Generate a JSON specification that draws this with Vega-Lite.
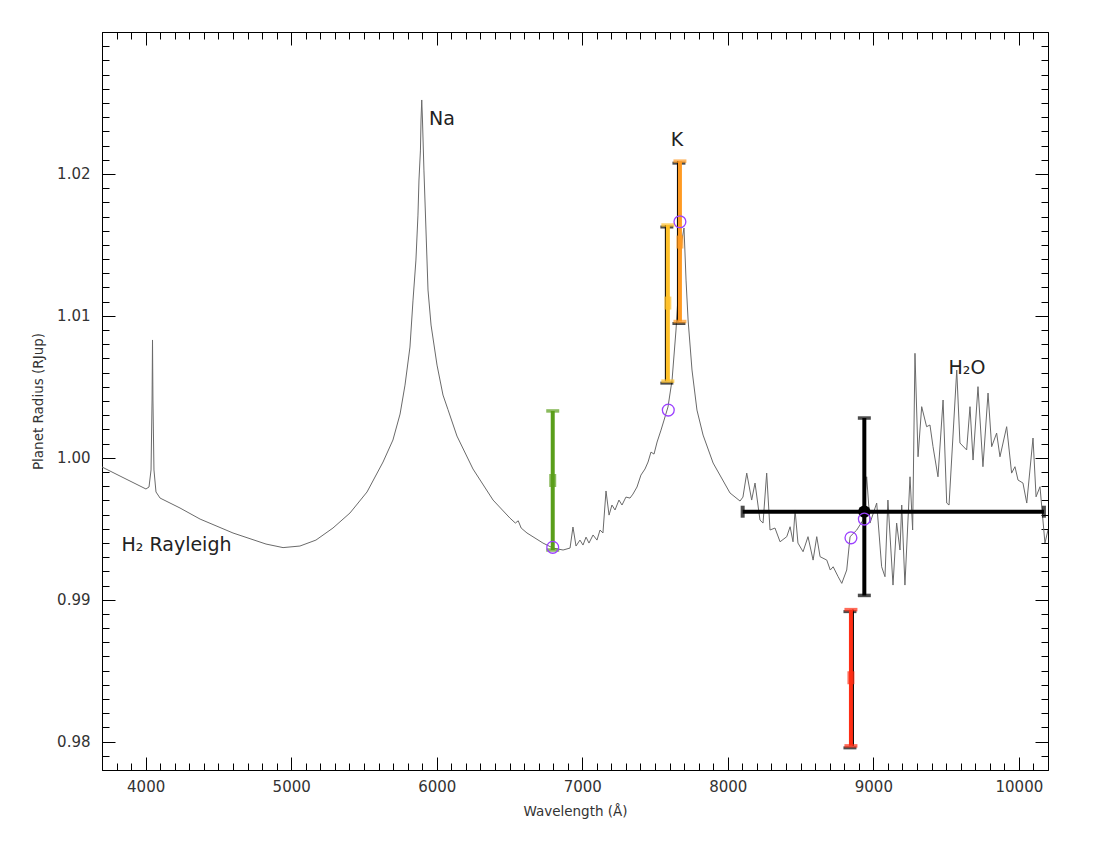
{
  "$schema": "https://vega.github.io/schema/vega-lite/v6.json",
  "width": 946,
  "height": 738,
  "autosize": {"type": "none"},
  "padding": {"left": 102, "top": 32, "right": 52, "bottom": 75},
  "background": "white",
  "config": {
    "view": {"stroke": null},
    "axis": {"grid": false, "domainColor": "black", "domainWidth": 1, "tickColor": "black", "tickWidth": 1, "labelFont": "DejaVu Sans", "titleFont": "DejaVu Sans", "labelColor": "#333333", "titleColor": "#333333", "labelFontWeight": "normal", "titleFontWeight": "normal"}
  },
  "resolve": {"axis": {"x": "independent", "y": "independent"}},
  "datasets": {
    "spectrum": [
      {"w":3700,"r":0.99935},{"w":3824,"r":0.99871},{"w":3961,"r":0.99801},{"w":4002,"r":0.99780},{"w":4023,"r":0.99794},{"w":4037,"r":0.99914},{"w":4044,"r":1.00407},{"w":4047,"r":1.00830},{"w":4050,"r":1.00407},{"w":4057,"r":0.99914},{"w":4071,"r":0.99759},{"w":4099,"r":0.99716},{"w":4236,"r":0.99646},{"w":4374,"r":0.99568},{"w":4600,"r":0.99470},{"w":4827,"r":0.99392},{"w":4944,"r":0.99367},{"w":5060,"r":0.99378},{"w":5170,"r":0.99420},{"w":5287,"r":0.99505},{"w":5404,"r":0.99611},{"w":5521,"r":0.99759},{"w":5631,"r":0.99970},{"w":5699,"r":1.00125},{"w":5748,"r":1.00308},{"w":5782,"r":1.00512},{"w":5816,"r":1.00780},{"w":5837,"r":1.01111},{"w":5857,"r":1.01393},{"w":5871,"r":1.01710},{"w":5878,"r":1.01957},{"w":5888,"r":1.02168},{"w":5892,"r":1.02380},{"w":5897,"r":1.02521},{"w":5902,"r":1.02380},{"w":5912,"r":1.02027},{"w":5926,"r":1.01605},{"w":5940,"r":1.01182},{"w":5961,"r":1.00935},{"w":6002,"r":1.00653},{"w":6043,"r":1.00442},{"w":6077,"r":1.00340},{"w":6139,"r":1.00153},{"w":6249,"r":0.99921},{"w":6387,"r":0.99702},{"w":6503,"r":0.99575},{"w":6540,"r":0.99540},{"w":6560,"r":0.99556},{"w":6580,"r":0.99505},{"w":6620,"r":0.99470},{"w":6730,"r":0.99399},{"w":6799,"r":0.99364},{"w":6868,"r":0.99350},{"w":6916,"r":0.99364},{"w":6936,"r":0.99512},{"w":6957,"r":0.99378},{"w":6984,"r":0.99420},{"w":7005,"r":0.99385},{"w":7026,"r":0.99441},{"w":7046,"r":0.99399},{"w":7074,"r":0.99456},{"w":7101,"r":0.99420},{"w":7122,"r":0.99491},{"w":7142,"r":0.99470},{"w":7163,"r":0.99766},{"w":7184,"r":0.99596},{"w":7204,"r":0.99667},{"w":7225,"r":0.99632},{"w":7252,"r":0.99702},{"w":7273,"r":0.99667},{"w":7300,"r":0.99723},{"w":7328,"r":0.99716},{"w":7348,"r":0.99744},{"w":7376,"r":0.99794},{"w":7403,"r":0.99878},{"w":7431,"r":0.99921},{"w":7452,"r":0.99970},{"w":7472,"r":1.00040},{"w":7493,"r":1.00026},{"w":7514,"r":1.00111},{"w":7541,"r":1.00195},{"w":7562,"r":1.00266},{"w":7589,"r":1.00358},{"w":7617,"r":1.00548},{"w":7644,"r":1.00900},{"w":7665,"r":1.01252},{"w":7685,"r":1.01534},{"w":7699,"r":1.01619},{"w":7713,"r":1.01252},{"w":7727,"r":1.00971},{"w":7754,"r":1.00618},{"w":7788,"r":1.00336},{"w":7830,"r":1.00160},{"w":7899,"r":0.99963},{"w":8015,"r":0.99752},{"w":8084,"r":0.99695},{"w":8104,"r":0.99723},{"w":8130,"r":0.99892},{"w":8164,"r":0.99702},{"w":8187,"r":0.99822},{"w":8221,"r":0.99561},{"w":8242,"r":0.99540},{"w":8267,"r":0.99892},{"w":8290,"r":0.99491},{"w":8324,"r":0.99505},{"w":8359,"r":0.99408},{"w":8405,"r":0.99444},{"w":8428,"r":0.99514},{"w":8448,"r":0.99408},{"w":8462,"r":0.99632},{"w":8482,"r":0.99399},{"w":8517,"r":0.99338},{"w":8551,"r":0.99444},{"w":8586,"r":0.99279},{"w":8611,"r":0.99444},{"w":8634,"r":0.99303},{"w":8680,"r":0.99279},{"w":8704,"r":0.99209},{"w":8724,"r":0.99232},{"w":8758,"r":0.99162},{"w":8783,"r":0.99115},{"w":8817,"r":0.99209},{"w":8840,"r":0.99444},{"w":8886,"r":0.99491},{"w":8929,"r":0.99561},{"w":8954,"r":0.99866},{"w":8977,"r":0.99540},{"w":9023,"r":0.99681},{"w":9057,"r":0.99232},{"w":9080,"r":0.99162},{"w":9100,"r":0.99702},{"w":9135,"r":0.99103},{"w":9160,"r":0.99540},{"w":9183,"r":0.99350},{"w":9195,"r":0.99667},{"w":9217,"r":0.99103},{"w":9252,"r":0.99866},{"w":9270,"r":0.99491},{"w":9286,"r":1.00736},{"w":9307,"r":1.00007},{"w":9332,"r":1.00360},{"w":9366,"r":1.00219},{"w":9389,"r":1.00231},{"w":9410,"r":1.00078},{"w":9444,"r":0.99866},{"w":9479,"r":1.00407},{"w":9504,"r":0.99681},{"w":9520,"r":0.99667},{"w":9573,"r":1.00618},{"w":9595,"r":1.00104},{"w":9641,"r":1.00055},{"w":9664,"r":1.00360},{"w":9685,"r":0.99984},{"w":9719,"r":1.00501},{"w":9753,"r":0.99937},{"w":9788,"r":1.00456},{"w":9813,"r":1.00078},{"w":9847,"r":1.00174},{"w":9870,"r":1.00007},{"w":9916,"r":1.00219},{"w":9950,"r":0.99892},{"w":9973,"r":0.99937},{"w":9994,"r":0.99843},{"w":10028,"r":0.99822},{"w":10054,"r":0.99681},{"w":10097,"r":1.00139},{"w":10118,"r":0.99725},{"w":10145,"r":0.99796},{"w":10179,"r":0.99399},{"w":10200,"r":0.99491}
    ],
    "obs": [
      {"band":"green","wl":6797,"r":0.9984,"lo":0.9935,"hi":1.0033},
      {"band":"gold","wl":7588,"r":1.0109,"lo":1.0054,"hi":1.0164},
      {"band":"orange","wl":7671,"r":1.0152,"lo":1.0096,"hi":1.0209},
      {"band":"red","wl":8846,"r":0.9845,"lo":0.9797,"hi":0.9893},
      {"band":"black","wl":8938,"r":0.9962,"lo":0.9903,"hi":1.0028,"wlo":8102,"whi":10172}
    ],
    "model": [
      {"wl":6797,"r":0.99369},
      {"wl":7591,"r":1.00336},
      {"wl":7671,"r":1.01663},
      {"wl":8846,"r":0.99436},
      {"wl":8938,"r":0.99568}
    ],
    "labels": [
      {"text":"Na","wl":6036,"r":1.02387},
      {"text":"K","wl":7651,"r":1.02239},
      {"text":"H₂O","wl":9643,"r":1.00632},
      {"text":"H₂ Rayleigh","wl":4212,"r":0.99385}
    ]
  },
  "layer": [
    {
      "data": {"name": "spectrum"},
      "mark": {"type": "line", "color": "#6a6a6a", "strokeWidth": 1, "clip": true},
      "encoding": {
        "x": {"field": "w", "type": "quantitative", "scale": {"domain": [3700, 10200], "nice": false, "zero": false},
          "axis": {"orient": "bottom", "values": [4000,5000,6000,7000,8000,9000,10000], "format": "d", "tickSize": -13, "labelPadding": 22, "labelFontSize": 15, "title": "Wavelength (Å)", "titleFontSize": 13.5, "titlePadding": 10}},
        "y": {"field": "r", "type": "quantitative", "scale": {"domain": [0.978, 1.03], "nice": false, "zero": false},
          "axis": {"orient": "left", "values": [0.98,0.99,1.0,1.01,1.02], "format": ".2f", "tickSize": -13, "labelPadding": 25, "labelFontSize": 15, "title": "Planet Radius (RJup)", "titleFontSize": 13.5, "titlePadding": 11}}
      }
    },
    {
      "data": {"name": "obs"},
      "transform": [{"filter": "datum.band === 'black'"}],
      "mark": {"type": "rule", "color": "black", "strokeWidth": 4},
      "encoding": {
        "x": {"field": "wlo", "type": "quantitative", "scale": {"domain": [3700, 10200], "nice": false, "zero": false},
          "axis": {"orient": "top", "values": [4000,5000,6000,7000,8000,9000,10000], "tickSize": -13, "labels": false, "title": null}},
        "x2": {"field": "whi"},
        "y": {"field": "r", "type": "quantitative", "scale": {"domain": [0.978, 1.03], "nice": false, "zero": false},
          "axis": {"orient": "right", "values": [0.98,0.99,1.0,1.01,1.02], "tickSize": -13, "labels": false, "title": null}}
      }
    },
    {
      "data": {"name": "obs"},
      "transform": [{"filter": "datum.band === 'black'"}, {"fold": ["wlo", "whi"], "as": ["end", "xv"]}],
      "mark": {"type": "tick", "orient": "vertical", "color": "black", "size": 12, "thickness": 4},
      "encoding": {
        "x": {"field": "xv", "type": "quantitative", "scale": {"domain": [3700, 10200], "nice": false, "zero": false},
          "axis": {"orient": "bottom", "values": [3700,3800,3900,4000,4100,4200,4300,4400,4500,4600,4700,4800,4900,5000,5100,5200,5300,5400,5500,5600,5700,5800,5900,6000,6100,6200,6300,6400,6500,6600,6700,6800,6900,7000,7100,7200,7300,7400,7500,7600,7700,7800,7900,8000,8100,8200,8300,8400,8500,8600,8700,8800,8900,9000,9100,9200,9300,9400,9500,9600,9700,9800,9900,10000,10100], "tickSize": -7, "labels": false, "title": null}},
        "y": {"field": "r", "type": "quantitative", "scale": {"domain": [0.978, 1.03], "nice": false, "zero": false},
          "axis": {"orient": "left", "values": [0.979,0.98,0.981,0.982,0.983,0.984,0.985,0.986,0.987,0.988,0.989,0.99,0.991,0.992,0.993,0.994,0.995,0.996,0.997,0.998,0.999,1.0,1.001,1.002,1.003,1.004,1.005,1.006,1.007,1.008,1.009,1.01,1.011,1.012,1.013,1.014,1.015,1.016,1.017,1.018,1.019,1.02,1.021,1.022,1.023,1.024,1.025,1.026,1.027,1.028,1.029], "tickSize": -7, "labels": false, "title": null}}
      }
    },
    {
      "data": {"name": "obs"},
      "transform": [{"filter": "datum.band === 'gold' || datum.band === 'orange'"}],
      "mark": {"type": "rule", "color": "black", "strokeWidth": 2, "xOffset": -2},
      "encoding": {
        "x": {"field": "wl", "type": "quantitative", "scale": {"domain": [3700, 10200], "nice": false, "zero": false},
          "axis": {"orient": "top", "values": [3700,3800,3900,4000,4100,4200,4300,4400,4500,4600,4700,4800,4900,5000,5100,5200,5300,5400,5500,5600,5700,5800,5900,6000,6100,6200,6300,6400,6500,6600,6700,6800,6900,7000,7100,7200,7300,7400,7500,7600,7700,7800,7900,8000,8100,8200,8300,8400,8500,8600,8700,8800,8900,9000,9100,9200,9300,9400,9500,9600,9700,9800,9900,10000,10100], "tickSize": -7, "labels": false, "title": null}},
        "y": {"field": "lo", "type": "quantitative", "scale": {"domain": [0.978, 1.03], "nice": false, "zero": false},
          "axis": {"orient": "right", "values": [0.979,0.98,0.981,0.982,0.983,0.984,0.985,0.986,0.987,0.988,0.989,0.99,0.991,0.992,0.993,0.994,0.995,0.996,0.997,0.998,0.999,1.0,1.001,1.002,1.003,1.004,1.005,1.006,1.007,1.008,1.009,1.01,1.011,1.012,1.013,1.014,1.015,1.016,1.017,1.018,1.019,1.02,1.021,1.022,1.023,1.024,1.025,1.026,1.027,1.028,1.029], "tickSize": -7, "labels": false, "title": null}},
        "y2": {"field": "hi"}
      }
    },
    {
      "data": {"name": "obs"},
      "transform": [{"filter": "datum.band === 'red'"}],
      "mark": {"type": "rule", "color": "black", "strokeWidth": 2, "xOffset": 2},
      "encoding": {
        "x": {"field": "wl", "type": "quantitative", "scale": {"domain": [3700, 10200], "nice": false, "zero": false}, "axis": null},
        "y": {"field": "lo", "type": "quantitative", "scale": {"domain": [0.978, 1.03], "nice": false, "zero": false}, "axis": null},
        "y2": {"field": "hi"}
      }
    },
    {
      "data": {"name": "obs"},
      "transform": [{"filter": "datum.band === 'gold' || datum.band === 'orange' || datum.band === 'red'"}, {"fold": ["lo", "hi"], "as": ["end", "yv"]}],
      "mark": {"type": "tick", "orient": "horizontal", "color": "black", "size": 13, "thickness": 3, "xOffset": -1, "yOffset": 2},
      "encoding": {
        "x": {"field": "wl", "type": "quantitative", "scale": {"domain": [3700, 10200], "nice": false, "zero": false}, "axis": null},
        "y": {"field": "yv", "type": "quantitative", "scale": {"domain": [0.978, 1.03], "nice": false, "zero": false}, "axis": null}
      }
    },
    {
      "data": {"name": "obs"},
      "mark": {"type": "rule", "strokeWidth": 4},
      "encoding": {
        "x": {"field": "wl", "type": "quantitative", "scale": {"domain": [3700, 10200], "nice": false, "zero": false}, "axis": null},
        "y": {"field": "lo", "type": "quantitative", "scale": {"domain": [0.978, 1.03], "nice": false, "zero": false}, "axis": null},
        "y2": {"field": "hi"},
        "color": {"field": "band", "type": "nominal", "scale": {"domain": ["green","gold","orange","red","black"], "range": ["#5a9e1a","#ffc12a","#ff9a22","#ff2d14","#000000"]}, "legend": null}
      }
    },
    {
      "data": {"name": "obs"},
      "transform": [{"fold": ["lo", "hi"], "as": ["end", "yv"]}],
      "mark": {"type": "tick", "orient": "horizontal", "size": 13, "thickness": 3.5},
      "encoding": {
        "x": {"field": "wl", "type": "quantitative", "scale": {"domain": [3700, 10200], "nice": false, "zero": false}, "axis": null},
        "y": {"field": "yv", "type": "quantitative", "scale": {"domain": [0.978, 1.03], "nice": false, "zero": false}, "axis": null},
        "color": {"field": "band", "type": "nominal", "scale": {"domain": ["green","gold","orange","red","black"], "range": ["#5a9e1a","#ffc12a","#ff9a22","#ff2d14","#000000"]}, "legend": null}
      }
    },
    {
      "data": {"name": "obs"},
      "transform": [{"filter": "datum.band !== 'black'"}],
      "mark": {"type": "tick", "orient": "vertical", "size": 13, "thickness": 7},
      "encoding": {
        "x": {"field": "wl", "type": "quantitative", "scale": {"domain": [3700, 10200], "nice": false, "zero": false}, "axis": null},
        "y": {"field": "r", "type": "quantitative", "scale": {"domain": [0.978, 1.03], "nice": false, "zero": false}, "axis": null},
        "color": {"field": "band", "type": "nominal", "scale": {"domain": ["green","gold","orange","red","black"], "range": ["#5a9e1a","#ffc12a","#ff9a22","#ff2d14","#000000"]}, "legend": null}
      }
    },
    {
      "data": {"name": "obs"},
      "transform": [{"filter": "datum.band === 'black'"}],
      "mark": {"type": "point", "shape": "circle", "filled": true, "color": "black", "size": 150, "opacity": 1},
      "encoding": {
        "x": {"field": "wl", "type": "quantitative", "scale": {"domain": [3700, 10200], "nice": false, "zero": false}, "axis": null},
        "y": {"field": "r", "type": "quantitative", "scale": {"domain": [0.978, 1.03], "nice": false, "zero": false}, "axis": null}
      }
    },
    {
      "data": {"name": "model"},
      "mark": {"type": "point", "shape": "circle", "filled": false, "color": "#9b40ff", "size": 140, "strokeWidth": 1.3, "opacity": 1},
      "encoding": {
        "x": {"field": "wl", "type": "quantitative", "scale": {"domain": [3700, 10200], "nice": false, "zero": false}, "axis": null},
        "y": {"field": "r", "type": "quantitative", "scale": {"domain": [0.978, 1.03], "nice": false, "zero": false}, "axis": null}
      }
    },
    {
      "data": {"name": "labels"},
      "mark": {"type": "text", "font": "DejaVu Sans", "fontSize": 19, "color": "#222222", "align": "center", "baseline": "middle"},
      "encoding": {
        "x": {"field": "wl", "type": "quantitative", "scale": {"domain": [3700, 10200], "nice": false, "zero": false}, "axis": null},
        "y": {"field": "r", "type": "quantitative", "scale": {"domain": [0.978, 1.03], "nice": false, "zero": false}, "axis": null},
        "text": {"field": "text", "type": "nominal"}
      }
    }
  ]
}
